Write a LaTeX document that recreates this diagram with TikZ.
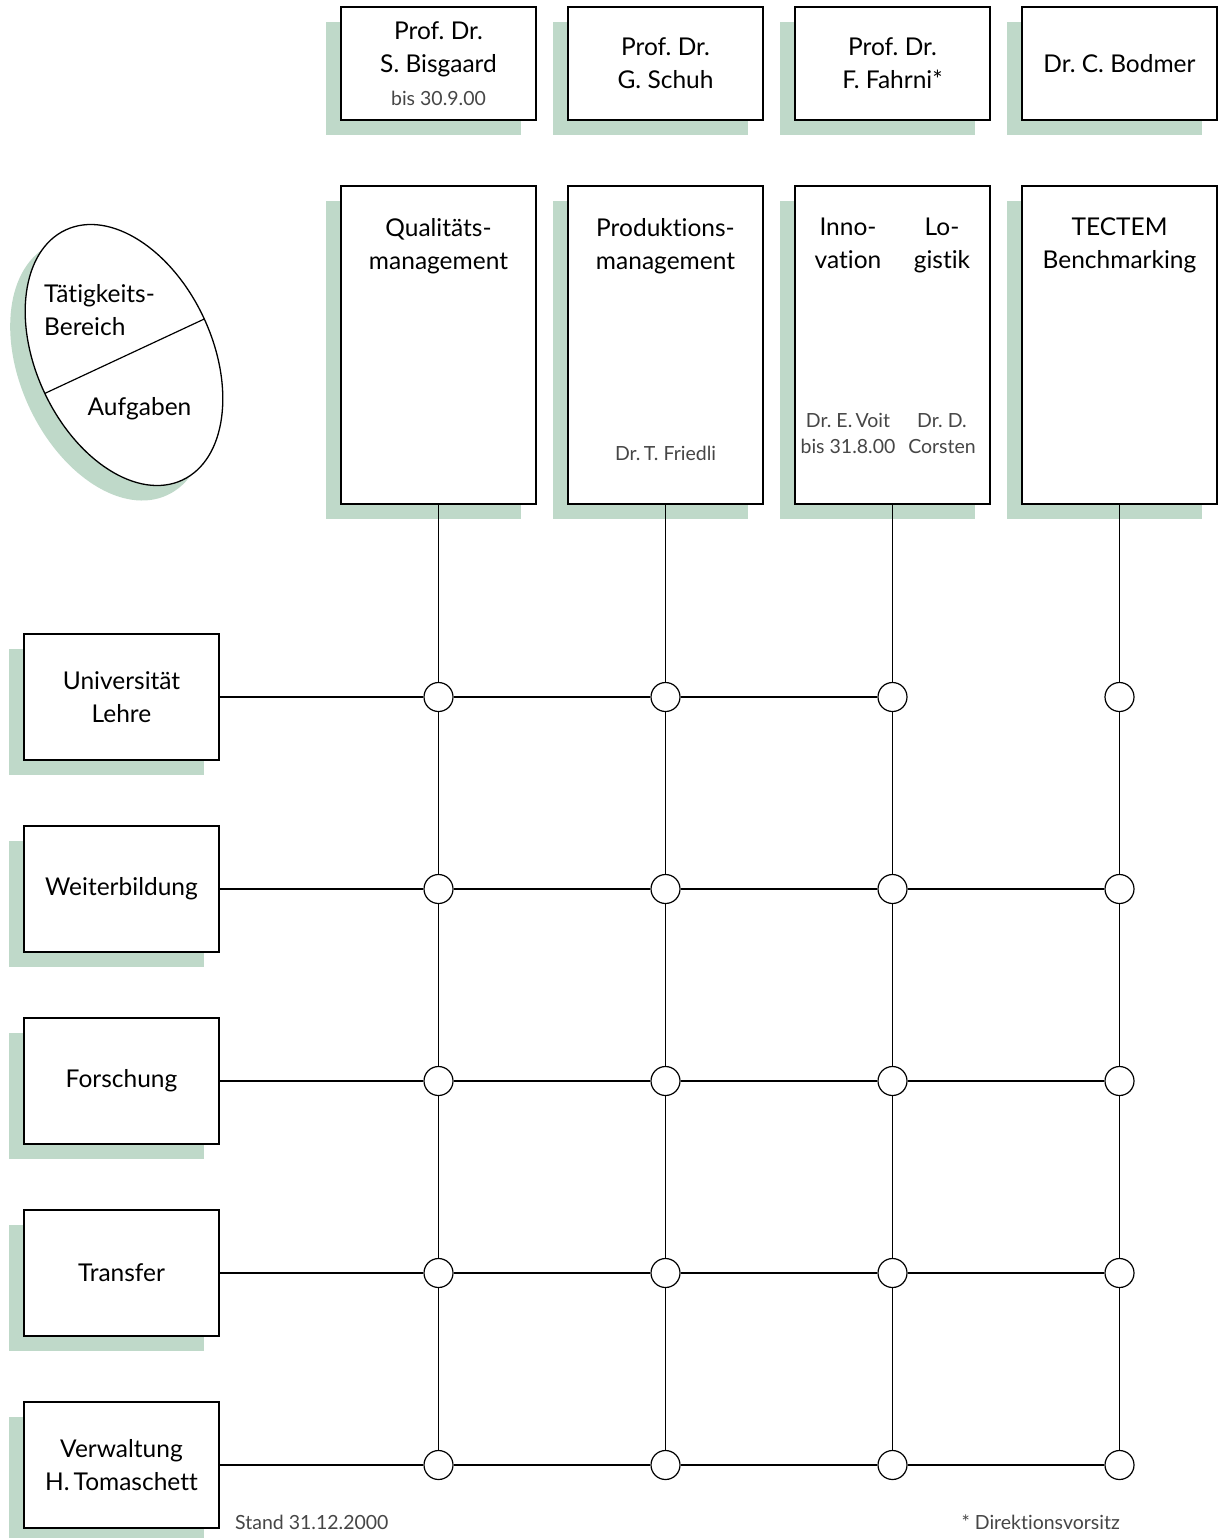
\documentclass[tikz,border=0pt]{standalone}
\usepackage{fontspec}
\setmainfont{Lato}[Ligatures=NoCommon]
\frenchspacing
\usetikzlibrary{shadows}
\definecolor{sgreen}{RGB}{191,217,201}
\definecolor{txtgray}{RGB}{70,70,70}
\begin{document}
\begin{tikzpicture}[x=1pt,y=-1pt,
  shadowed/.style={general shadow={fill=sgreen, draw=none, shadow xshift=-15pt, shadow yshift=-15pt}},
  mainfont/.style={font=\fontsize{24.5}{33}\selectfont},
  smallfont/.style={font=\fontsize{19.5}{26}\selectfont},
  topbox/.style={draw, line width=1.4pt, fill=white, shadowed, minimum width=195pt, minimum height=113pt, align=center, inner sep=0pt, mainfont},
  areabox/.style={draw, line width=1.4pt, fill=white, shadowed, minimum width=195pt, minimum height=318pt, inner sep=0pt},
  rowbox/.style={draw, line width=1.4pt, fill=white, shadowed, minimum width=195pt, minimum height=126pt, align=center, inner sep=0pt, mainfont},
  head/.style={anchor=north, align=center, inner sep=0pt, mainfont},
  note/.style={anchor=north, align=center, inner sep=0pt, text=txtgray, smallfont},
  junction/.style={circle, draw, line width=1.2pt, fill=white, minimum size=29pt, inner sep=0pt},
  link/.style={line width=1.2pt},
]
\useasboundingbox[fill=white] (0,0) rectangle (1226,1538);

% ---- legend ellipse ----
\fill[sgreen, rotate around={-65:(109,370)}] (109,370) ellipse [x radius=138, y radius=88];
\fill[white, rotate around={-65:(124,355)}] (124,355) ellipse [x radius=138, y radius=88];
\begin{scope}
  \clip[rotate around={-65:(124,355)}] (124,355) ellipse [x radius=138, y radius=88];
  \draw[line width=1.2pt] (20,405) -- (230,307);
\end{scope}
\draw[line width=1.3pt, rotate around={-65:(124,355)}] (124,355) ellipse [x radius=138, y radius=88];
\node[anchor=north west, align=left, inner sep=0pt, mainfont] (lgtop) at (44,284) {Tätigkeits-\\Bereich};
\node[anchor=base, inner sep=0pt, mainfont] (lgbot) at (139.5,415) {Aufgaben};

% ---- top boxes ----
\node[topbox] (p1) at (438.5,63.5) {Prof. Dr.\\S. Bisgaard\\[0pt]{\color{txtgray}\fontsize{19.5}{26}\selectfont bis 30.9.00}};
\node[topbox] (p2) at (665.5,63.5) {Prof. Dr.\\G. Schuh};
\node[topbox] (p3) at (892.5,63.5) {Prof. Dr.\\F. Fahrni*};
\node[topbox] (p4) at (1119.5,63.5) {Dr. C. Bodmer};

% ---- area boxes ----
\node[areabox] (a1) at (438.5,345) {};
\node[areabox] (a2) at (665.5,345) {};
\node[areabox] (a3) at (892.5,345) {};
\node[areabox] (a4) at (1119.5,345) {};
\node[head] (h1) at (438.5,218) {Qualitäts-\\management};
\node[head] (h2) at (665.5,218) {Produktions-\\management};
\node[head] (h3a) at (848,218) {Inno-\\vation};
\node[head] (h3b) at (942,218) {Lo-\\gistik};
\node[head] (h4) at (1119.5,218) {TECTEM\\Benchmarking};
\node[note] (n2) at (665.5,446) {Dr.\,T. Friedli};
\node[note] (n3a) at (848,413) {Dr. E.\,Voit\\bis 31.8.00};
\node[note] (n3b) at (942,413) {Dr. D.\\Corsten};

% ---- row boxes ----
\node[rowbox] (r1) at (121.5,697) {Universität\\Lehre};
\node[rowbox] (r2) at (121.5,889) {Weiterbildung};
\node[rowbox] (r3) at (121.5,1081) {Forschung};
\node[rowbox] (r4) at (121.5,1273) {Transfer};
\node[rowbox] (r5) at (121.5,1465) {Verwaltung\\H.\,Tomaschett};

% ---- junctions ----
\foreach \r/\y in {1/697,2/889,3/1081,4/1273,5/1465}{
  \foreach \c/\x in {1/438.5,2/665.5,3/892.5,4/1119.5}{
    \node[junction] (c\r\c) at (\x,\y) {};
  }
}

% ---- vertical links ----
\foreach \c in {1,2,3,4}{
  \draw[link] (a\c) -- (c1\c) -- (c2\c) -- (c3\c) -- (c4\c) -- (c5\c);
}
% ---- horizontal links ----
\draw[link] (r1) -- (c11) -- (c12) -- (c13);
\foreach \r in {2,3,4,5}{
  \draw[link] (r\r) -- (c\r1) -- (c\r2) -- (c\r3) -- (c\r4);
}

% ---- footnotes ----
\node[anchor=base west, inner sep=0pt, text=txtgray, smallfont] (stand) at (235,1529) {Stand 31.12.2000};
\node[anchor=base east, inner sep=0pt, text=txtgray, smallfont] (fn) at (1120,1529) {* Direktionsvorsitz};
\end{tikzpicture}
\end{document}
